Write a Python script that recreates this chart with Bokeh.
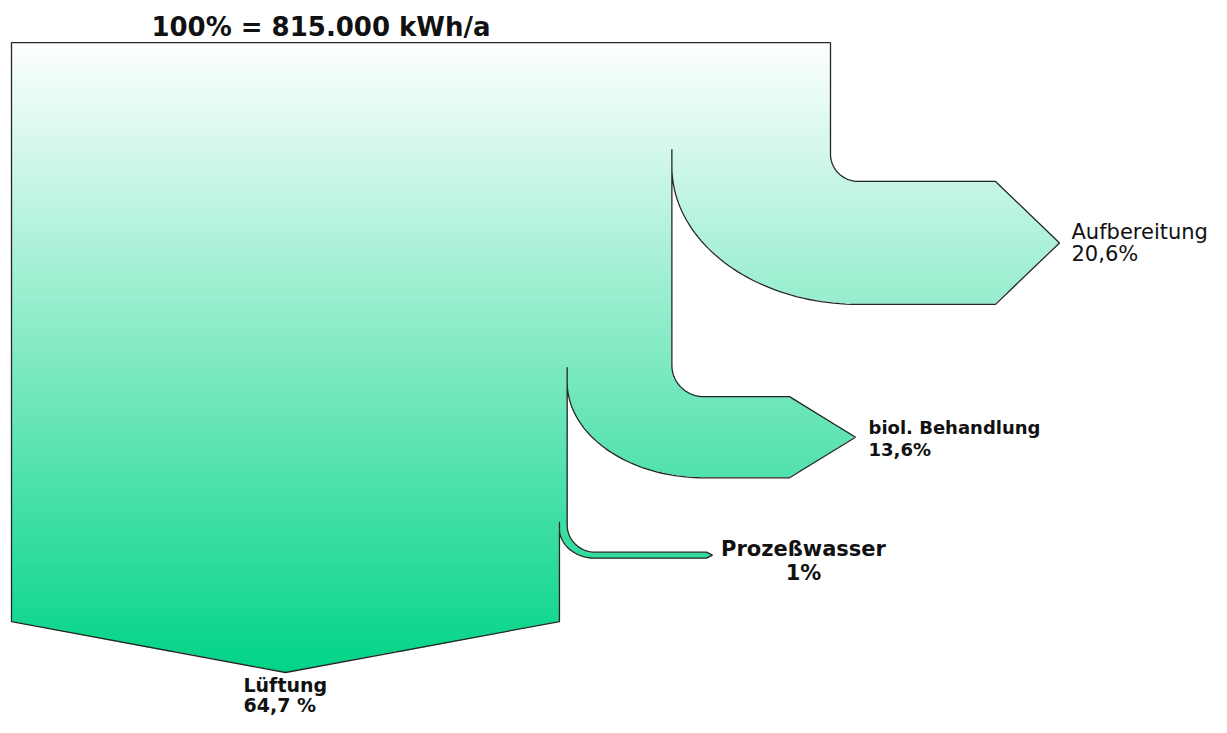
import numpy as np
from bokeh.plotting import figure
from bokeh.models import Range1d
from bokeh.core.properties import value
from bokeh.embed import file_html
from bokeh.resources import INLINE

# ---------------- data ----------------
title_text = "100% = 815.000 kWh/a"
branch_names = ["Aufbereitung", "biol. Behandlung", "Prozeßwasser"]
branch_pcts = [20.6, 13.6, 1.0]
branch_pct_labels = ["20,6%", "13,6%", "1%"]
main_name = "Lüftung"
main_pct = 64.7
main_pct_label = "64,7 %"

# ---------------- layout (reference pixel space, y downwards) ----------------
W, H = 1211, 717            # figure size on screen
LAYOUT_W, LAYOUT_H = 1211, 733
LEFT, TOP, RIGHT = 11, 43, 830
PX_PER_PCT = 7.7      # width of a branch where it leaves the body
THICK_PER_PCT = 6.1   # thickness of a branch after it has turned
branch_layout = [
    dict(y_top=185, r=28, y_ic=170, x_head=995, x_tip=1059, stub=152,
         lab_x=12, lab_dy=(-11, 11), lab_align="left", font=21, bold=False),
    dict(y_top=405, r=32, y_ic=390, x_head=789, x_tip=855, stub=375,
         lab_x=13, lab_dy=(-10, 13), lab_align="left", font=18, bold=True),
    dict(y_top=564, r=28, y_ic=540, x_head=706, x_tip=712, stub=533,
         lab_x=91, lab_dy=(-6, 18), lab_align="center", font=21, bold=True),
]
MAIN_BOTTOM = 635
MAIN_TIP = 687
GRAD_TOP, GRAD_BOTTOM = 43, 690
COL_TOP = np.array([255, 255, 255], float)
COL_BOTTOM = np.array([0, 212, 134], float)
FONT = "DejaVu Sans"


def arc(cx, cy, rx, ry, t0, t1, n=48):
    t = np.linspace(t0, t1, n)
    return list(zip(cx + rx * np.cos(t), cy + ry * np.sin(t)))


# ---------------- build the sankey outline from the values ----------------
pts = [(LEFT, TOP), (RIGHT, TOP)]
stubs_x, stubs_y = [], []
tips = []
x_outer = RIGHT
for pct, lay in zip(branch_pcts, branch_layout):
    w = pct * PX_PER_PCT
    t = pct * THICK_PER_PCT
    x_inner = x_outer - w
    r = lay["r"]
    y_top = lay["y_top"]
    y_bot = y_top + t
    x_turn = x_outer + r
    pts.append((x_outer, y_top - r))
    pts += arc(x_turn, y_top - r, r, r, np.pi, np.pi / 2)
    pts.append((lay["x_head"], y_top))
    pts.append((lay["x_tip"], y_top + t / 2))
    pts.append((lay["x_head"], y_bot))
    pts += arc(x_turn, lay["y_ic"], x_turn - x_inner, y_bot - lay["y_ic"], np.pi / 2, np.pi)
    stubs_x.append([x_inner, x_inner])
    stubs_y.append([lay["stub"], lay["y_ic"]])
    tips.append((lay["x_tip"], y_top + t / 2))
    x_outer = x_inner
pts.append((x_outer, MAIN_BOTTOM))
main_tip = ((LEFT + x_outer) / 2, MAIN_TIP)
pts.append(main_tip)
pts.append((LEFT, MAIN_BOTTOM))

poly = np.array(pts, float)


def yd(y):
    return LAYOUT_H - np.asarray(y, float)


# ---------------- gradient fill as a masked RGBA image ----------------
xmin, xmax = int(np.floor(poly[:, 0].min())) - 1, int(np.ceil(poly[:, 0].max())) + 1
ymin, ymax = int(np.floor(poly[:, 1].min())) - 1, int(np.ceil(poly[:, 1].max())) + 1
nx, ny = xmax - xmin, ymax - ymin
img = np.zeros((ny, nx), dtype=np.uint32)
view = img.view(dtype=np.uint8).reshape((ny, nx, 4))
nxt = np.roll(poly, -1, axis=0)
x1, y1, x2, y2 = poly[:, 0], poly[:, 1], nxt[:, 0], nxt[:, 1]
xc = xmin + np.arange(nx) + 0.5
for row in range(ny):
    yc = ymin + row + 0.5
    cond = (y1 <= yc) != (y2 <= yc)
    if not cond.any():
        continue
    xs = x1[cond] + (yc - y1[cond]) * (x2[cond] - x1[cond]) / (y2[cond] - y1[cond])
    xs.sort()
    inside = np.zeros(nx, bool)
    for a, b in zip(xs[0::2], xs[1::2]):
        inside |= (xc >= a) & (xc < b)
    f = np.clip((yc - GRAD_TOP) / (GRAD_BOTTOM - GRAD_TOP), 0, 1)
    col = COL_TOP + (COL_BOTTOM - COL_TOP) * f
    view[row, inside, 0] = int(round(col[0]))
    view[row, inside, 1] = int(round(col[1]))
    view[row, inside, 2] = int(round(col[2]))
    view[row, inside, 3] = 255

# ---------------- figure ----------------
p = figure(width=W, height=H, output_backend="svg", toolbar_location=None,
           x_range=Range1d(0, LAYOUT_W), y_range=Range1d(0, LAYOUT_H),
           min_border=0, outline_line_color=None)
p.axis.visible = False
p.grid.visible = False
p.background_fill_color = "white"
p.border_fill_color = "white"

p.image_rgba(image=[img[::-1]], x=xmin, y=float(yd(ymax)), dw=nx, dh=ny)
p.patch(poly[:, 0], yd(poly[:, 1]), fill_color=None, line_color="#262626", line_width=1.3)
p.multi_line(stubs_x, [list(yd(s)) for s in stubs_y], line_color="#262626", line_width=1.3)


def txt(x, y, s, size, bold, align="left"):
    p.text(x=[x], y=[float(yd(y))], text=[s], text_font=value(FONT),
           text_font_size=f"{size}px", text_font_style="bold" if bold else "normal",
           text_align=align, text_baseline="middle", text_color="#111111")


# title
txt((LEFT + RIGHT) / 2 - 100, TOP - 16, title_text, 26, True, "center")

# branch labels
for name, lab, (tx, ty), lay in zip(branch_names, branch_pct_labels, tips, branch_layout):
    txt(tx + lay["lab_x"], ty + lay["lab_dy"][0], name, lay["font"], lay["bold"], lay["lab_align"])
    txt(tx + lay["lab_x"], ty + lay["lab_dy"][1], lab, lay["font"], lay["bold"], lay["lab_align"])

# main output label (below the arrow tip)
txt(main_tip[0] - 42, main_tip[1] + 13, main_name, 19, True)
txt(main_tip[0] - 42, main_tip[1] + 33, main_pct_label, 19, True)

open("out.html", "w").write(file_html(p, INLINE))
